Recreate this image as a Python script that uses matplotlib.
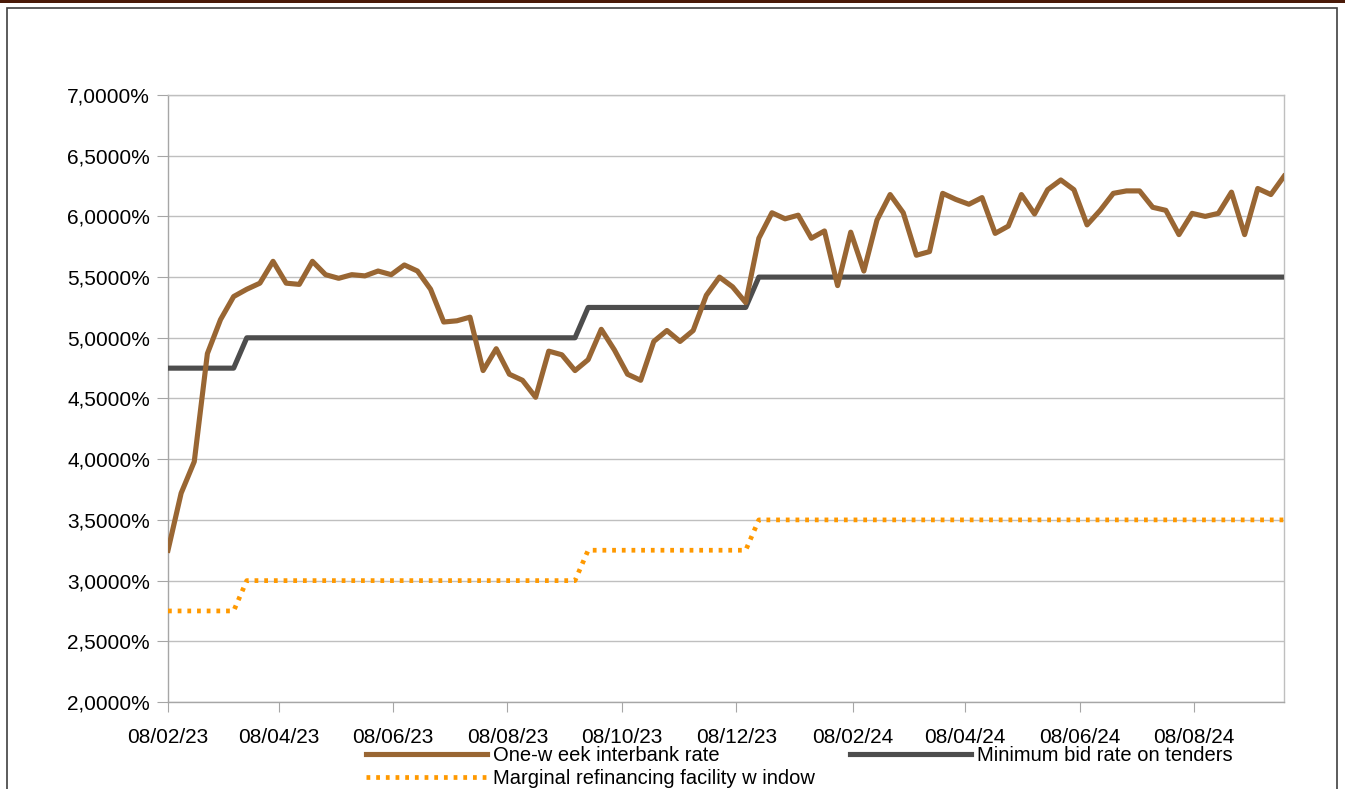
import pandas as pd
import matplotlib.pyplot as plt
import matplotlib.dates as mdates
from matplotlib.patches import Rectangle
from matplotlib.ticker import FuncFormatter

plt.rcParams['font.family'] = ['Liberation Sans', 'DejaVu Sans']

# weekly observations
dates = pd.date_range('2023-02-08', periods=86, freq='7D')

interbank = [3.25, 3.72, 3.98, 4.87, 5.15, 5.34, 5.40, 5.45, 5.63, 5.45,
             5.44, 5.63, 5.52, 5.49, 5.52, 5.51, 5.55, 5.52, 5.60, 5.55,
             5.40, 5.13, 5.14, 5.17, 4.73, 4.91, 4.70, 4.65, 4.51, 4.89,
             4.86, 4.73, 4.82, 5.07, 4.90, 4.70, 4.65, 4.97, 5.06, 4.97,
             5.06, 5.35, 5.50, 5.42, 5.29, 5.82, 6.03, 5.98, 6.01, 5.82,
             5.88, 5.43, 5.87, 5.55, 5.97, 6.18, 6.03, 5.68, 5.71, 6.19,
             6.14, 6.10, 6.155, 5.86, 5.92, 6.18, 6.02, 6.22, 6.30, 6.22,
             5.93, 6.05, 6.19, 6.21, 6.21, 6.075, 6.05, 5.85, 6.025, 6.00,
             6.025, 6.20, 5.85, 6.23, 6.18, 6.33]

min_bid = [4.75] * 6 + [5.00] * 26 + [5.25] * 13 + [5.50] * 41
marginal = [2.75] * 6 + [3.00] * 26 + [3.25] * 13 + [3.50] * 41

# axis ticks: the 8th of every second month
tick_dates = pd.date_range('2023-02-01', '2024-08-01', freq='2MS') + pd.Timedelta(days=7)

fig = plt.figure(figsize=(13.45, 7.89), dpi=100)
ax = fig.add_axes([168 / 1345, 1 - 702 / 789, (1284 - 168) / 1345, (702 - 95) / 789])

l3, = ax.plot(dates, marginal, color='#FF9900', lw=3.4,
              linestyle=(0, (0.8, 1.25)), dash_capstyle='butt',
              label='Marginal refinancing facility w indow', zorder=3)
l2, = ax.plot(dates, min_bid, color='#4D4D4D', lw=3.7,
              label='Minimum bid rate on tenders', zorder=4)
l1, = ax.plot(dates, interbank, color='#996633', lw=3.7,
              label='One-w eek interbank rate', zorder=5)

ax.set_ylim(2.0, 7.0)
ax.set_yticks([2.0 + 0.5 * k for k in range(11)])
ax.yaxis.set_major_formatter(FuncFormatter(lambda v, p: f'{v:.4f}'.replace('.', ',') + '%'))
ax.set_xlim(dates[0], dates[-1])
ax.set_xticks(tick_dates)
ax.xaxis.set_major_formatter(mdates.DateFormatter('%d/%m/%y'))

ax.grid(axis='y', color='#BFBFBF', lw=1.0)
ax.set_axisbelow(True)
for s in ax.spines.values():
    s.set_color('#BFBFBF')
    s.set_linewidth(1.0)
ax.spines['left'].set_color('#A6A6A6')
ax.spines['bottom'].set_color('#A6A6A6')
ax.tick_params(axis='y', length=8, color='#A6A6A6', labelsize=15, pad=5)
ax.tick_params(axis='x', length=7.5, color='#A6A6A6', labelsize=15, pad=11)

fig.legend(handles=[l1, l3, l2], ncol=2, loc='upper left',
           bbox_to_anchor=(366 / 1345, 1 - 746 / 789), frameon=False,
           fontsize=14.5, handlelength=6.0, handletextpad=0.3,
           columnspacing=1.75, labelspacing=0.22, borderpad=0, borderaxespad=0)

# outer frame and top band
fig.patches.append(Rectangle((7 / 1345, -0.02), (1337 - 7) / 1345, 1 - 8 / 789 + 0.02,
                             transform=fig.transFigure, fill=False,
                             edgecolor='#404040', lw=1.2))
fig.patches.append(Rectangle((0, 1 - 3 / 789), 1, 3 / 789, transform=fig.transFigure,
                             facecolor='#4A1A08', edgecolor='none'))

fig.savefig('out.png', dpi=100)
